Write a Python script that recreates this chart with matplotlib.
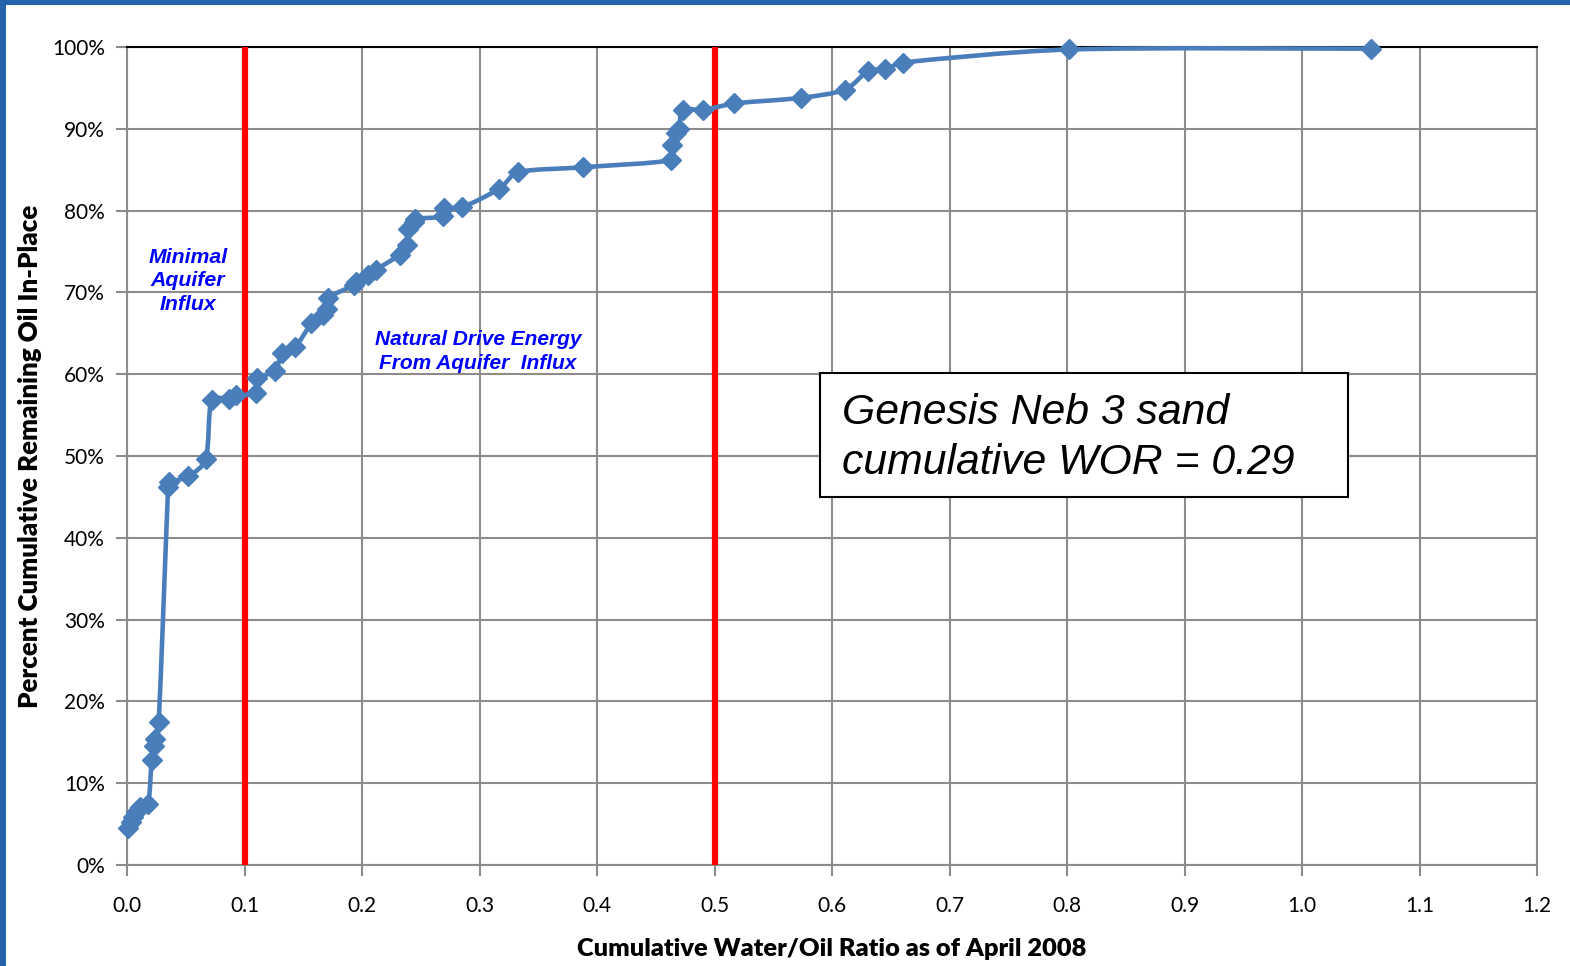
import matplotlib
matplotlib.use('Agg')
import matplotlib.pyplot as plt
from matplotlib.path import Path
from matplotlib.patches import PathPatch, Rectangle
from matplotlib.ticker import MultipleLocator, FuncFormatter

# cumulative water/oil ratio vs percent of remaining oil in-place
wor = [0.001, 0.003, 0.005, 0.008, 0.011, 0.018, 0.021, 0.023, 0.024, 0.027,
       0.035, 0.036, 0.052, 0.067, 0.072, 0.087, 0.093, 0.110, 0.111, 0.126,
       0.132, 0.143, 0.157, 0.167, 0.170, 0.171, 0.193, 0.195, 0.205, 0.212,
       0.232, 0.238, 0.239, 0.244, 0.245, 0.269, 0.270, 0.285, 0.317, 0.333,
       0.388, 0.463, 0.464, 0.467, 0.470, 0.473, 0.490, 0.517, 0.574, 0.611,
       0.631, 0.645, 0.660, 0.802, 1.059]
pct = [4.5, 5.3, 5.9, 6.5, 7.1, 7.5, 12.8, 14.5, 15.4, 17.5,
       46.2, 46.8, 47.5, 49.6, 56.8, 57.0, 57.4, 57.7, 59.5, 60.4,
       62.6, 63.3, 66.2, 67.2, 68.0, 69.3, 70.9, 71.3, 72.1, 72.8,
       74.6, 75.8, 77.8, 78.6, 79.0, 79.3, 80.3, 80.4, 82.7, 84.7,
       85.3, 86.2, 88.0, 89.5, 90.0, 92.3, 92.3, 93.1, 93.8, 94.8,
       97.1, 97.3, 98.1, 99.7, 99.8]
cutoffs = [0.1, 0.5]

BLUE = '#4A7EBB'
GRID = '#8C8C8C'
calibri = ['Lato', 'DejaVu Sans']
arial = ['Liberation Sans', 'DejaVu Sans']


def smooth_path(ax, xs, ys):
    # excel style smoothed line, built in pixel space then mapped back to data
    tr = ax.transData
    pts = [tuple(p) for p in tr.transform(list(zip(xs, ys)))]
    n = len(pts)

    def clamp(v, seg):
        ln = (v[0] ** 2 + v[1] ** 2) ** 0.5
        lim = seg / 3.0
        if ln > lim and ln > 0:
            return (v[0] * lim / ln, v[1] * lim / ln)
        return v

    verts = [pts[0]]
    codes = [Path.MOVETO]
    for i in range(n - 1):
        p0 = pts[i - 1] if i > 0 else pts[i]
        p1 = pts[i]
        p2 = pts[i + 1]
        p3 = pts[i + 2] if i + 2 < n else pts[i + 1]
        seg = ((p2[0] - p1[0]) ** 2 + (p2[1] - p1[1]) ** 2) ** 0.5
        t1 = clamp(((p2[0] - p0[0]) / 6, (p2[1] - p0[1]) / 6), seg)
        t2 = clamp(((p3[0] - p1[0]) / 6, (p3[1] - p1[1]) / 6), seg)
        verts += [(p1[0] + t1[0], p1[1] + t1[1]), (p2[0] - t2[0], p2[1] - t2[1]), p2]
        codes += [Path.CURVE4] * 3
    verts = tr.inverted().transform(verts)
    return Path(verts, codes)


fig = plt.figure(figsize=(15.7, 9.66), dpi=100)
ax = fig.add_axes([0.0809, 0.1046, 0.8981, 0.8467])

ax.set_xlim(0, 1.2)
ax.set_ylim(0, 100)
ax.xaxis.set_major_locator(MultipleLocator(0.1))
ax.yaxis.set_major_locator(MultipleLocator(10))
ax.xaxis.set_major_formatter(FuncFormatter(lambda v, p: '%.1f' % v))
ax.yaxis.set_major_formatter(FuncFormatter(lambda v, p: '%d%%' % round(v)))
ax.grid(True, color=GRID, linewidth=1.5)
ax.set_axisbelow(True)
for s in ['left', 'bottom', 'right']:
    ax.spines[s].set_color(GRID)
    ax.spines[s].set_linewidth(1.5)
ax.spines['top'].set_color('black')
ax.spines['top'].set_linewidth(1.5)
ax.tick_params(axis='both', colors=GRID, length=8, width=1.5, labelsize=15,
               labelcolor='black')
ax.tick_params(axis='x', pad=14)
ax.tick_params(axis='y', pad=8)
for lab in ax.get_xticklabels() + ax.get_yticklabels():
    lab.set_family(calibri)

for c in cutoffs:
    ax.axvline(c, color='#FF0000', linewidth=4.5, zorder=3)

ax.add_patch(PathPatch(smooth_path(ax, wor, pct), facecolor='none', edgecolor=BLUE,
                       linewidth=3.3, zorder=4, clip_on=False))
ax.plot(wor, pct, linestyle='none', marker='D', markersize=10, color=BLUE, zorder=5,
        clip_on=False)

ax.text(0.0519, 71.4, 'Minimal\nAquifer\nInflux', color='#0000FF', fontsize=15.3,
        fontweight='bold', style='italic', family=arial, ha='center', va='center',
        linespacing=1.3)
ax.text(0.2987, 62.8, 'Natural Drive Energy\nFrom Aquifer  Influx', color='#0000FF',
        fontsize=15.0, fontweight='bold', style='italic', family=arial, ha='center',
        va='center', linespacing=1.3)

# text box
fig.patches.append(Rectangle((820 / 1570, 1 - 497 / 966), 528 / 1570, 124 / 966,
                             transform=fig.transFigure, facecolor='white',
                             edgecolor='black', linewidth=1.5, zorder=6))
fig.text(842 / 1570, 1 - 438 / 966, 'Genesis Neb 3 sand\ncumulative WOR = 0.29',
         fontsize=30.8, style='italic', family=arial, ha='left', va='center',
         linespacing=1.3, zorder=7)

ax.set_xlabel('Cumulative Water/Oil Ratio as of April 2008', fontsize=18.3,
              fontweight='heavy', family=calibri, labelpad=16)
ax.set_ylabel('Percent Cumulative Remaining Oil In-Place', fontsize=18.6,
              fontweight='heavy', family=calibri, labelpad=7)

# blue slide frame
fig.patches.append(Rectangle((0, 1 - 5 / 966), 1, 5 / 966, transform=fig.transFigure,
                             facecolor='#2563AA', edgecolor='none'))
fig.patches.append(Rectangle((0, 0), 6 / 1570, 1, transform=fig.transFigure,
                             facecolor='#2563AA', edgecolor='none'))

fig.savefig('out.png', dpi=100)
